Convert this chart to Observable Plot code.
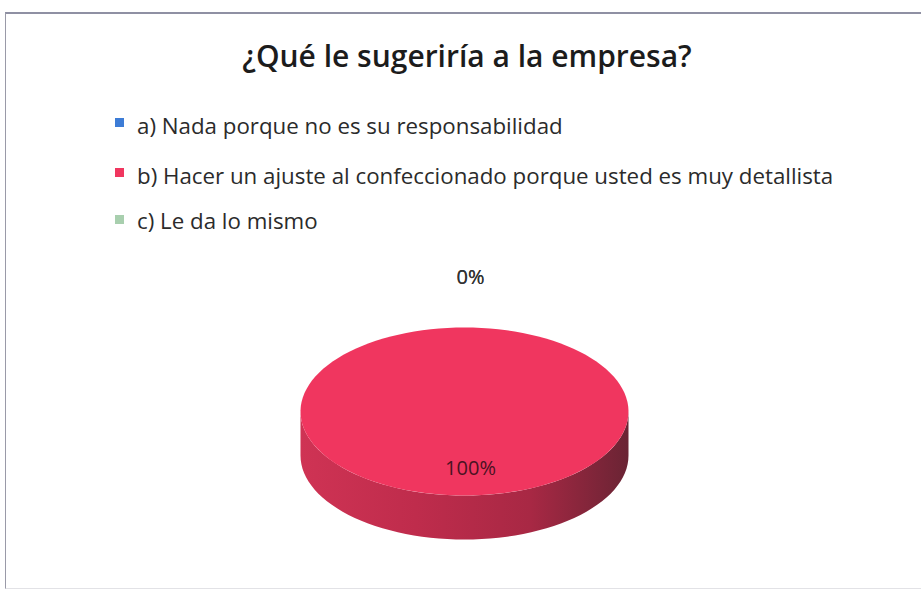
<!DOCTYPE html>
<html>
<head>
<meta charset="utf-8">
<script src="https://cdn.jsdelivr.net/npm/d3@7"></script>
<script src="https://cdn.jsdelivr.net/npm/@observablehq/plot@0.6"></script>
<style>
  html, body { margin: 0; padding: 0; background: #fff; }
  #page { position: relative; width: 921px; height: 589px; overflow: hidden; font-family: "Open Sans", sans-serif; }
  #frame { position: absolute; left: 5px; top: 12px; width: 916px; height: 574px;
           border-top: 2px solid #8f90a3; border-left: 1px solid #9a9aa8; border-bottom: 1px solid #e2e2e6; }
  #title { position: absolute; left: 0; width: 934px; top: 36px; text-align: center;
           font-size: 30px; line-height: 40px; color: #1c1c1c; font-weight: 600; }
  .leg { position: absolute; left: 115px; font-size: 22.3px; line-height: 26px; color: #2b2b2b; white-space: nowrap; }
  .leg span.sw { position: absolute; left: 0; width: 9px; height: 9px; }
  .leg span.tx { position: absolute; left: 22px; top: 0; }
  #plot { position: absolute; left: 0; top: 250px; }
</style>
</head>
<body>
<div id="page">
  <div id="frame"></div>
  <div id="title">¿Qué le sugeriría a la empresa?</div>
  <div id="legend"></div>
  <div id="plot"></div>
</div>
<script>
const categories = [
  "a) Nada porque no es su responsabilidad",
  "b) Hacer un ajuste al confeccionado porque usted es muy detallista",
  "c) Le da lo mismo"
];
const values = [0, 100, 0];
const valueLabels = ["0%", "100%", "0%"];
const colors = ["#3d7cd6", "#f0365f", "#a8cfae"];

// Legend
const legendTops = [113, 163, 208];
const swatchTops = [5, 5, 7];
const legend = document.getElementById("legend");
categories.forEach((c, i) => {
  const row = document.createElement("div");
  row.className = "leg";
  row.style.top = legendTops[i] + "px";
  row.innerHTML = `<span class="sw" style="top:${swatchTops[i]}px;background:${colors[i]}"></span><span class="tx">${c}</span>`;
  legend.appendChild(row);
});

// 3D pie geometry
const cx = 464, cy = 411, rx = 164, ry = 84, depth = 44;
const px = a => cx + rx * Math.sin(a);
const py = a => cy - ry * Math.cos(a);

const arcs = d3.pie().sort(null).value(d => d)(values);
const steps = 120;

const topPts = [];
const sidePts = [];
arcs.forEach((a, i) => {
  if (a.endAngle - a.startAngle <= 0) return;
  const n = Math.max(2, Math.ceil(steps * (a.endAngle - a.startAngle) / (2 * Math.PI)));
  const full = a.endAngle - a.startAngle >= 2 * Math.PI - 1e-9;
  if (!full) topPts.push({k: i, x: cx, y: cy, color: colors[i]});
  for (let s = 0; s <= n; s++) {
    const t = a.startAngle + (a.endAngle - a.startAngle) * s / n;
    topPts.push({k: i, x: px(t), y: py(t), color: colors[i]});
  }
  // front side: angles between PI/2 and 3PI/2
  const s0 = Math.max(a.startAngle, Math.PI / 2), s1 = Math.min(a.endAngle, 3 * Math.PI / 2);
  if (s1 > s0) {
    const m = Math.ceil(steps * (s1 - s0) / (2 * Math.PI));
    for (let s = 0; s <= m; s++) {
      const t = s0 + (s1 - s0) * s / m;
      sidePts.push({k: i, x: px(t), y: py(t)});
    }
    for (let s = m; s >= 0; s--) {
      const t = s0 + (s1 - s0) * s / m;
      sidePts.push({k: i, x: px(t), y: py(t) + depth});
    }
  }
});

const labelPts = arcs.map((a, i) => {
  const mid = (a.startAngle + a.endAngle) / 2;
  const k = values[i] === 0 ? 1.6 : 0.68;
  return {x: cx + 6 + rx * k * Math.sin(mid), y: cy - ry * k * Math.cos(mid), label: valueLabels[i], zero: values[i] === 0};
});

const chart = Plot.plot({
  width: 921,
  height: 339,
  margin: 0,
  x: {domain: [0, 921], range: [0, 921], axis: null},
  y: {domain: [250, 589], range: [0, 339], axis: null},
  color: {type: "identity"},
  style: {background: "transparent", overflow: "visible"},
  marks: [
    Plot.line(sidePts, {x: "x", y: "y", z: "k", fill: "url(#sideGrad)", stroke: "none", curve: "linear"}),
    Plot.line(topPts, {x: "x", y: "y", z: "k", fill: "color", stroke: "none", curve: "linear"}),
    Plot.text(labelPts, {x: "x", y: "y", text: "label", fontSize: 20, fontFamily: "Open Sans",
      fill: d => d.zero ? "#333333" : "#4a1222"})
  ]
});
chart.insertAdjacentHTML("afterbegin",
  `<defs>
     <linearGradient id="sideGrad" x1="0" y1="0" x2="1" y2="0">
       <stop offset="0" stop-color="#cf3354"/>
       <stop offset="0.35" stop-color="#bf2c4c"/>
       <stop offset="0.7" stop-color="#a82844"/>
       <stop offset="1" stop-color="#6a2434"/>
     </linearGradient>
   </defs>`);
document.getElementById("plot").appendChild(chart);
</script>
</body>
</html>
